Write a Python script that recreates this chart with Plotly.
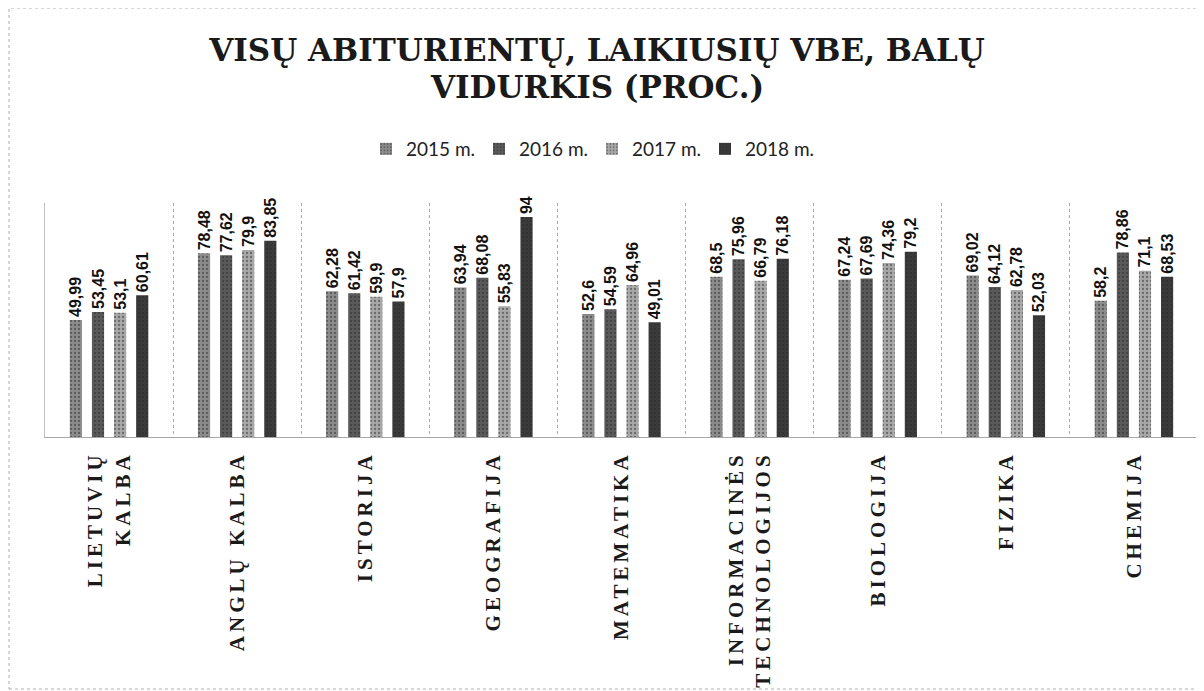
import plotly.graph_objects as go

categories = ["LIETUVIŲ<br>KALBA", "ANGLŲ KALBA", "ISTORIJA", "GEOGRAFIJA", "MATEMATIKA",
              "INFORMACINĖS<br>TECHNOLOGIJOS", "BIOLOGIJA", "FIZIKA", "CHEMIJA"]
y2015 = [49.99, 78.48, 62.28, 63.94, 52.6, 68.5, 67.24, 69.02, 58.2]
y2016 = [53.45, 77.62, 61.42, 68.08, 54.59, 75.96, 67.69, 64.12, 78.86]
y2017 = [53.1, 79.9, 59.9, 55.83, 64.96, 66.79, 74.36, 62.78, 71.1]
y2018 = [60.61, 83.85, 57.9, 94, 49.01, 76.18, 79.2, 52.03, 68.53]
series_names = ["2015 m.", "2016 m.", "2017 m.", "2018 m."]
colors = ["#8c8c8c", "#5a5a5a", "#a8a8a8", "#3a3a3a"]
title_line1 = "VISŲ ABITURIENTŲ, LAIKIUSIŲ VBE, BALŲ"
title_line2 = "VIDURKIS (PROC.)"

# tick labels shown with wide letter spacing like the original
sp = "<span style='letter-spacing:4px'>"
tick_text = [sp + c.replace("<br>", "</span><br>" + sp) + "</span>" for c in categories]

fig = go.Figure()
for name, vals, col in zip(series_names, [y2015, y2016, y2017, y2018], colors):
    fig.add_trace(go.Bar(
        x=categories, y=vals, name=name,
        marker=dict(color=col, line=dict(width=0),
                    pattern=dict(shape=".", size=4, solidity=0.25, fgcolor="#2a2a2a", bgcolor=col)),
        text=vals, texttemplate="%{y}", textposition="outside", textangle=-90,
        constraintext="none", cliponaxis=False,
        textfont=dict(family="Liberation Sans", size=16, color="#111111", weight="bold"),
    ))

W, H = 1196, 683
L, R, T, B = 37, 6, 195, 254
pw, ph = W - L - R, H - T - B
fig.update_layout(
    width=W, height=H,
    separators=", ",
    paper_bgcolor="white", plot_bgcolor="white",
    margin=dict(l=L, r=R, t=T, b=B, autoexpand=False),
    barmode="group", bargap=0.31, bargroupgap=0.45,
    title=dict(text=title_line1,
               x=0.4925, xanchor="center", y=1 - 42 / H, yanchor="middle",
               font=dict(family="DejaVu Serif", size=31, color="#1a1a1a", weight="bold")),
    legend=dict(orientation="h", x=(592 - 8 - L) / pw, xanchor="center", y=(429 - 141) / ph, yanchor="middle",
                font=dict(family="Lato", size=19, color="#222222"),
                itemwidth=30, entrywidth=68, entrywidthmode="pixels", traceorder="normal"),
    showlegend=True,
)
fig.add_annotation(text=title_line2, xref="paper", yref="paper",
                   x=(589 - L) / pw, y=(429 - 79) / ph, xanchor="center", yanchor="middle",
                   showarrow=False,
                   font=dict(family="DejaVu Serif", size=31, color="#1a1a1a", weight="bold"))
fig.update_xaxes(type="category", tickangle=-90, tickson="boundaries",
                 tickvals=categories, ticktext=tick_text,
                 showgrid=True, gridcolor="#a8a8a8", griddash="dot", gridwidth=1,
                 showline=True, linecolor="#a8a8a8", linewidth=1,
                 ticks="", ticklabelstandoff=5, automargin=False,
                 tickfont=dict(family="Liberation Serif", size=21, color="#1a1a1a", weight="bold"))
fig.update_yaxes(range=[0, 100], showgrid=False, showticklabels=False, zeroline=False,
                 showline=True, linecolor="#c0c0c0", linewidth=1, mirror=True, ticks="")

fig.add_shape(type="rect", xref="paper", yref="paper",
              x0=(1 - L) / pw, x1=(1193 - L) / pw, y0=(429 - 681) / ph, y1=(429 - 0) / ph,
              line=dict(color="#b0b0b0", width=1, dash="dot"), fillcolor="rgba(0,0,0,0)")

fig.write_html("out.html")
